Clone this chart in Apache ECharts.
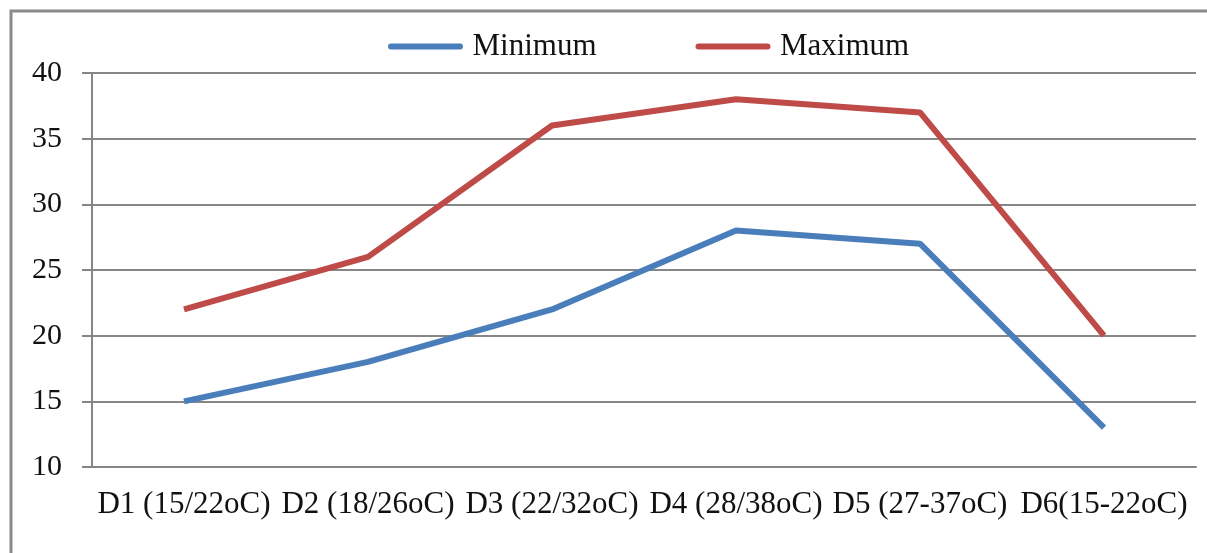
<!DOCTYPE html>
<html><head><meta charset="utf-8">
<script src="https://cdn.jsdelivr.net/npm/echarts@6/dist/echarts.min.js"></script>
<style>html,body{margin:0;padding:0;background:#fff}#c{width:1207px;height:553px}</style>
</head><body><div id="c"></div>
<script>
const categories = ['D1 (15/22oC)','D2 (18/26oC)','D3 (22/32oC)','D4 (28/38oC)','D5 (27-37oC)','D6(15-22oC)'];
const minimum = [15, 18, 22, 28, 27, 13];
const maximum = [22, 26, 36, 38, 37, 20];
const seriesNames = ['Minimum', 'Maximum'];
const chart = echarts.init(document.getElementById('c'));
const font = '"Liberation Serif", "Times New Roman", serif';
const lineIcon = 'path://M3,0 L72,0 A3,3 0 0 1 72,6 L3,6 A3,3 0 0 1 3,0 Z';
chart.setOption({
  animation: false,
  textStyle: {fontFamily: font},
  graphic: [{type: 'rect', shape: {x: 11, y: 11, width: 1210, height: 600}, style: {fill: 'none', stroke: '#8a8a8a', lineWidth: 3}, silent: true}],
  legend: {
    top: 26, left: 383, itemWidth: 76, itemHeight: 6, itemGap: 99,
    textStyle: {fontFamily: font, fontSize: 31, color: '#111', padding: [0, 0, 0, 4]},
    data: [{name: seriesNames[0], icon: lineIcon}, {name: seriesNames[1], icon: lineIcon}]
  },
  grid: {left: 92, right: 11, top: 73, bottom: 86, containLabel: false},
  xAxis: {
    type: 'category', data: categories, boundaryGap: true,
    axisLine: {lineStyle: {color: '#868686', width: 2}},
    axisTick: {length: 7, lineStyle: {color: '#868686', width: 2}},
    axisLabel: {fontFamily: font, fontSize: 31, color: '#111', margin: 22, interval: 0}
  },
  yAxis: {
    type: 'value', min: 10, max: 40, interval: 5,
    axisLine: {show: true, lineStyle: {color: '#868686', width: 2}},
    axisTick: {show: true, length: 10, lineStyle: {color: '#868686', width: 2}},
    axisLabel: {fontFamily: font, fontSize: 30, color: '#111', margin: 30},
    splitLine: {lineStyle: {color: '#868686', width: 2}}
  },
  series: [
    {name: seriesNames[0], type: 'line', data: minimum, symbol: 'none', lineStyle: {width: 6, color: '#4A7EBB'}, itemStyle: {color: '#4A7EBB'}},
    {name: seriesNames[1], type: 'line', data: maximum, symbol: 'none', lineStyle: {width: 6, color: '#BE4B48'}, itemStyle: {color: '#BE4B48'}}
  ]
});
</script></body></html>
